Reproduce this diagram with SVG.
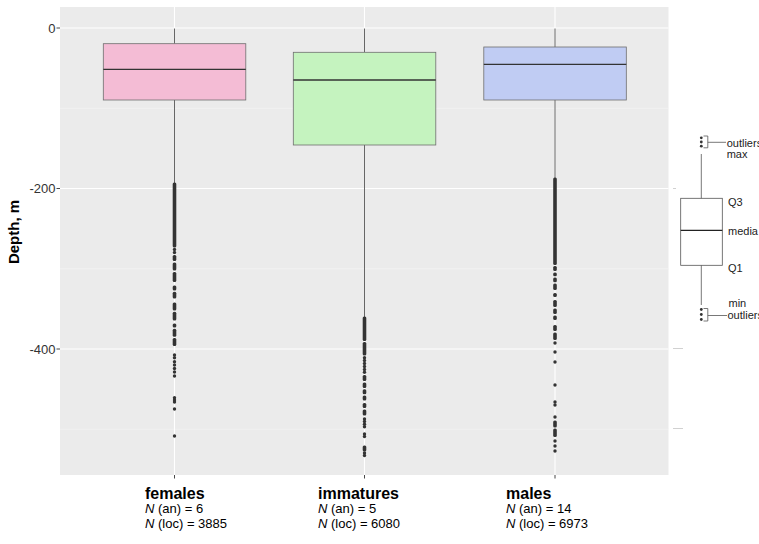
<svg xmlns="http://www.w3.org/2000/svg" width="759" height="544" viewBox="0 0 759 544">
<style>
.bg{fill:#FFFFFF}
.panel{fill:#EBEBEB}
.gmaj{stroke:#FFFFFF;stroke-width:1.1;fill:none}
.gmin{stroke:#F7F7F7;stroke-width:0.6;fill:none}
.tick{stroke:#333333;stroke-width:0.9}
.ytxt{font-family:"Liberation Sans",Arial,sans-serif;font-size:13px;fill:#333333;text-anchor:end}
.ttl{font-family:"Liberation Sans",Arial,sans-serif;font-size:15px;font-weight:bold;fill:#000000}
.cat{font-family:"Liberation Sans",Arial,sans-serif;font-size:16px;font-weight:bold;fill:#000000}
.nt{font-family:"Liberation Sans",Arial,sans-serif;font-size:13px;fill:#000000}
.box{stroke:#6E6E6E;stroke-width:0.8}
.med{stroke:#333333;stroke-width:1.3}
.wh{stroke:#555555;stroke-width:0.9;fill:none}
.o{fill:#333333}
.lg{stroke:#555555;stroke-width:0.8;fill:none}
.lt{font-family:"Liberation Sans",Arial,sans-serif;font-size:11px;fill:#222222}
.mk{stroke:#CCCCCC;stroke-width:0.9}
</style>
<rect class="bg" x="0" y="0" width="759" height="544"/>
<g id="panel">
<rect class="panel" x="60" y="7" width="608.5" height="468"/>
<line class="gmin" x1="60" y1="108.3" x2="668.5" y2="108.3"/>
<line class="gmin" x1="60" y1="268.8" x2="668.5" y2="268.8"/>
<line class="gmin" x1="60" y1="429.2" x2="668.5" y2="429.2"/>
<line class="gmaj" x1="60" y1="28" x2="668.5" y2="28"/>
<line class="gmaj" x1="60" y1="188.5" x2="668.5" y2="188.5"/>
<line class="gmaj" x1="60" y1="349" x2="668.5" y2="349"/>
<line class="gmaj" x1="174.5" y1="7" x2="174.5" y2="475"/>
<line class="gmaj" x1="364.5" y1="7" x2="364.5" y2="475"/>
<line class="gmaj" x1="555" y1="7" x2="555" y2="475"/>
</g>
<g id="axes">
<line class="tick" x1="56.5" y1="28" x2="60" y2="28"/>
<line class="tick" x1="56.5" y1="188.5" x2="60" y2="188.5"/>
<line class="tick" x1="56.5" y1="349" x2="60" y2="349"/>
<line class="tick" x1="174.5" y1="475" x2="174.5" y2="478.5"/>
<line class="tick" x1="364.5" y1="475" x2="364.5" y2="478.5"/>
<line class="tick" x1="555" y1="475" x2="555" y2="478.5"/>
<text class="ytxt" x="55.5" y="32.7">0</text>
<text class="ytxt" x="55.5" y="193.2">-200</text>
<text class="ytxt" x="55.5" y="353.7">-400</text>
<text class="ttl" transform="translate(18.5,232) rotate(-90)" text-anchor="middle">Depth, m</text>
</g>
<g id="connectors">
<line class="wh" x1="174.5" y1="28.5" x2="174.5" y2="43.7"/>
<line class="wh" x1="174.5" y1="100" x2="174.5" y2="184"/>
<line class="wh" x1="364.5" y1="28.5" x2="364.5" y2="52.3"/>
<line class="wh" x1="364.5" y1="145" x2="364.5" y2="318"/>
<line class="wh" x1="555" y1="28.5" x2="555" y2="47"/>
<line class="wh" x1="555" y1="100" x2="555" y2="179"/>
</g>
<g id="females">
<rect class="box" x="103.3" y="43.7" width="142.5" height="56.3" fill="#F4BCD5"/>
<line class="med" x1="103.3" y1="69.3" x2="245.8" y2="69.3"/>
<g class="o">
<rect x="172.7" y="182.5" width="3.6" height="65" rx="1.5"/>
<circle cx="174.5" cy="249.5" r="1.7"/>
<circle cx="174.5" cy="252.5" r="1.7"/>
<rect x="172.7" y="255" width="3.6" height="6" rx="1.5"/>
<rect x="172.7" y="262.5" width="3.6" height="8" rx="1.5"/>
<rect x="172.7" y="272" width="3.6" height="10" rx="1.5"/>
<rect x="172.7" y="285.5" width="3.6" height="5" rx="1.5"/>
<rect x="172.7" y="291.8" width="3.6" height="6.7" rx="1.5"/>
<rect x="172.7" y="302.5" width="3.6" height="8" rx="1.5"/>
<rect x="172.7" y="311.8" width="3.6" height="8.7" rx="1.5"/>
<rect x="172.7" y="323.5" width="3.6" height="4" rx="1.5"/>
<rect x="172.7" y="328.8" width="3.6" height="8" rx="1.5"/>
<rect x="172.7" y="338" width="3.6" height="8" rx="1.5"/>
<circle cx="174.5" cy="355" r="1.7"/>
<circle cx="174.5" cy="357.8" r="1.7"/>
<circle cx="174.5" cy="361.8" r="1.7"/>
<circle cx="174.5" cy="365" r="1.7"/>
<circle cx="174.5" cy="368.5" r="1.7"/>
<circle cx="174.5" cy="372" r="1.7"/>
<circle cx="174.5" cy="376" r="1.7"/>
<circle cx="174.5" cy="397.8" r="1.7"/>
<circle cx="174.5" cy="400" r="1.7"/>
<circle cx="174.5" cy="402" r="1.7"/>
<circle cx="174.5" cy="409" r="1.7"/>
<circle cx="174.5" cy="436" r="1.7"/>
</g>
<text class="cat" x="145" y="499">females</text>
<text class="nt" x="145" y="513"><tspan font-style="italic">N</tspan> (an) = 6</text>
<text class="nt" x="145" y="528"><tspan font-style="italic">N</tspan> (loc) = 3885</text>
</g>
<g id="immatures">
<rect class="box" x="293.3" y="52.3" width="142.5" height="92.7" fill="#C5F3BF"/>
<line class="med" x1="293.3" y1="80" x2="435.8" y2="80"/>
<g class="o">
<rect x="362.7" y="316.5" width="3.6" height="24.5" rx="1.5"/>
<rect x="362.7" y="342" width="3.6" height="13.5" rx="1.5"/>
<circle cx="364.5" cy="357.8" r="1.7"/>
<circle cx="364.5" cy="360.5" r="1.7"/>
<circle cx="364.5" cy="363.5" r="1.7"/>
<circle cx="364.5" cy="366.5" r="1.7"/>
<circle cx="364.5" cy="369.5" r="1.7"/>
<circle cx="364.5" cy="372.3" r="1.7"/>
<rect x="362.7" y="375" width="3.6" height="6" rx="1.5"/>
<rect x="362.7" y="382.5" width="3.6" height="5.5" rx="1.5"/>
<rect x="362.7" y="389.3" width="3.6" height="5" rx="1.5"/>
<rect x="362.7" y="395.5" width="3.6" height="5" rx="1.5"/>
<rect x="362.7" y="403" width="3.6" height="5" rx="1.5"/>
<rect x="362.7" y="409.5" width="3.6" height="6" rx="1.5"/>
<circle cx="364.5" cy="419" r="1.7"/>
<circle cx="364.5" cy="421.5" r="1.7"/>
<circle cx="364.5" cy="424.3" r="1.7"/>
<circle cx="364.5" cy="426.8" r="1.7"/>
<circle cx="364.5" cy="434" r="1.7"/>
<circle cx="364.5" cy="436.5" r="1.7"/>
<rect x="362.7" y="445.5" width="3.6" height="6" rx="1.5"/>
<circle cx="364.5" cy="453" r="1.7"/>
<circle cx="364.5" cy="455.5" r="1.7"/>
</g>
<text class="cat" x="318" y="499">immatures</text>
<text class="nt" x="318" y="513"><tspan font-style="italic">N</tspan> (an) = 5</text>
<text class="nt" x="318" y="528"><tspan font-style="italic">N</tspan> (loc) = 6080</text>
</g>
<g id="males">
<rect class="box" x="483.8" y="47" width="142.5" height="53" fill="#C0CCF3"/>
<line class="med" x1="483.8" y1="64.3" x2="626.3" y2="64.3"/>
<g class="o">
<rect x="553.2" y="177.5" width="3.6" height="87.5" rx="1.5"/>
<rect x="553.2" y="266" width="3.6" height="5" rx="1.5"/>
<rect x="553.2" y="272.5" width="3.6" height="3.8" rx="1.5"/>
<rect x="553.2" y="277.5" width="3.6" height="4.8" rx="1.5"/>
<rect x="553.2" y="283.5" width="3.6" height="6.5" rx="1.5"/>
<rect x="553.2" y="293" width="3.6" height="4" rx="1.5"/>
<rect x="553.2" y="300" width="3.6" height="7" rx="1.5"/>
<rect x="553.2" y="308.5" width="3.6" height="5.5" rx="1.5"/>
<rect x="553.2" y="315.5" width="3.6" height="4.5" rx="1.5"/>
<rect x="553.2" y="325" width="3.6" height="6" rx="1.5"/>
<rect x="553.2" y="332.5" width="3.6" height="7.5" rx="1.5"/>
<circle cx="555" cy="343" r="1.7"/>
<circle cx="555" cy="352" r="1.7"/>
<circle cx="555" cy="362" r="1.7"/>
<circle cx="555" cy="385" r="1.7"/>
<circle cx="555" cy="402" r="1.7"/>
<circle cx="555" cy="405" r="1.7"/>
<circle cx="555" cy="417" r="1.7"/>
<rect x="553.2" y="420.5" width="3.6" height="7" rx="1.5"/>
<rect x="553.2" y="428.5" width="3.6" height="8.5" rx="1.5"/>
<circle cx="555" cy="441" r="1.7"/>
<circle cx="555" cy="446" r="1.7"/>
<circle cx="555" cy="451" r="1.7"/>
</g>
<text class="cat" x="506" y="499">males</text>
<text class="nt" x="506" y="513"><tspan font-style="italic">N</tspan> (an) = 14</text>
<text class="nt" x="506" y="528"><tspan font-style="italic">N</tspan> (loc) = 6973</text>
</g>
<g id="legend">
<line class="mk" x1="673" y1="188.5" x2="676" y2="188.5"/>
<line class="mk" x1="673" y1="348.5" x2="683" y2="348.5"/>
<line class="mk" x1="673" y1="428.5" x2="683" y2="428.5"/>
<line class="lg" x1="701.3" y1="154" x2="701.3" y2="198.3"/>
<line class="lg" x1="701.3" y1="265.3" x2="701.3" y2="305"/>
<rect class="lg" x="680.7" y="198.3" width="41.6" height="67" fill="#FFFFFF"/>
<line stroke="#222222" stroke-width="1.3" x1="680.7" y1="230.3" x2="722.3" y2="230.3"/>
<circle class="o" cx="701.3" cy="137.8" r="1.4"/>
<circle class="o" cx="701.3" cy="142" r="1.4"/>
<circle class="o" cx="701.3" cy="146.2" r="1.4"/>
<path class="lg" d="M703.5 136 H707.8 V147.8 H703.5 M707.8 142.3 H726"/>
<circle class="o" cx="701.3" cy="309.5" r="1.4"/>
<circle class="o" cx="701.3" cy="314.5" r="1.4"/>
<circle class="o" cx="701.3" cy="319.5" r="1.4"/>
<path class="lg" d="M703.5 308.5 H707.8 V321 H703.5 M707.8 315.5 H727"/>
<text class="lt" x="726.7" y="146.5">outliers</text>
<text class="lt" x="726.7" y="158">max</text>
<text class="lt" x="728" y="206">Q3</text>
<text class="lt" x="728" y="234.5">media</text>
<text class="lt" x="728" y="272">Q1</text>
<text class="lt" x="728.5" y="307">min</text>
<text class="lt" x="727.5" y="319">outliers</text>
</g>
</svg>
